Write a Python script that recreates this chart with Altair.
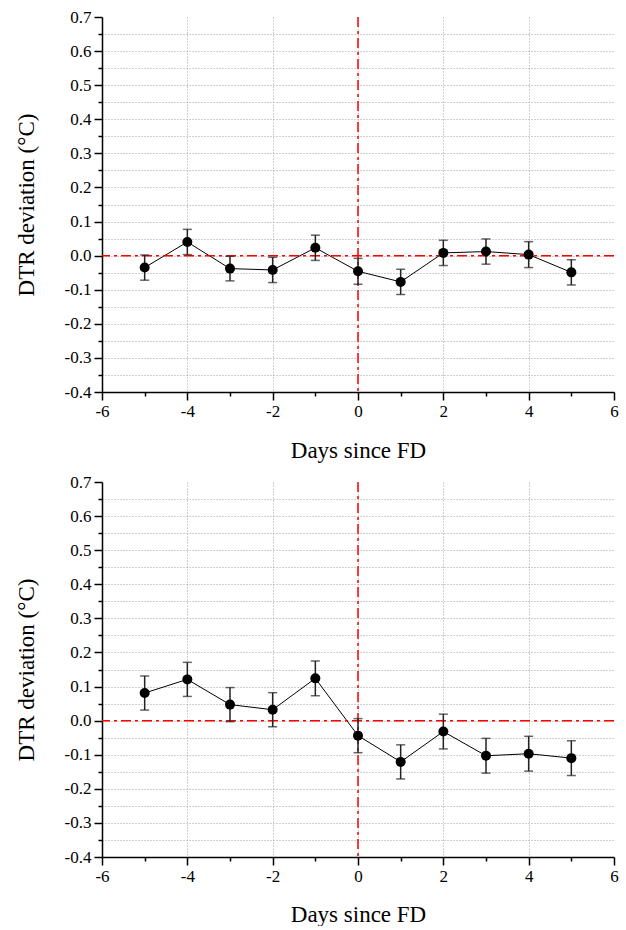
import altair as alt
import pandas as pd

days = [-5, -4, -3, -2, -1, 0, 1, 2, 3, 4, 5]

top_mean = [-0.035, 0.040, -0.038, -0.042, 0.023, -0.046, -0.077, 0.008, 0.012, 0.003, -0.049]
top_err = [0.037, 0.037, 0.036, 0.037, 0.037, 0.038, 0.037, 0.037, 0.037, 0.038, 0.037]

bottom_mean = [0.081, 0.121, 0.047, 0.032, 0.124, -0.044, -0.121, -0.032, -0.103, -0.097, -0.110]
bottom_err = [0.050, 0.050, 0.050, 0.050, 0.051, 0.050, 0.050, 0.051, 0.051, 0.051, 0.051]

x_ticks = [-6, -5, -4, -3, -2, -1, 0, 1, 2, 3, 4, 5, 6]
y_ticks = [-0.4, -0.35, -0.3, -0.25, -0.2, -0.15, -0.1, -0.05, 0.0, 0.05, 0.1, 0.15,
           0.2, 0.25, 0.3, 0.35, 0.4, 0.45, 0.5, 0.55, 0.6, 0.65, 0.7]

FONT = "Liberation Serif"
W, H = 512, 375


def panel(mean, err, xtitle_pad):
    df = pd.DataFrame({
        "day": days,
        "mean": mean,
        "lo": [m - e for m, e in zip(mean, err)],
        "hi": [m + e for m, e in zip(mean, err)],
    })
    xscale = alt.Scale(domain=[-6, 6], nice=False, zero=False)
    yscale = alt.Scale(domain=[-0.4, 0.7], nice=False, zero=False)
    common = dict(
        labelFont=FONT, titleFont=FONT, labelFontSize=17, titleFontSize=23,
        titleFontWeight="normal", labelColor="black", titleColor="black",
        domainColor="black", domainWidth=1.5, tickColor="black", tickWidth=1.5,
        gridColor="#a0a0a0", gridDash=[1, 2], gridWidth=1, labelPadding=3,
        labelFlush=False, labelOverlap=False,
    )
    xaxis = alt.Axis(
        values=x_ticks,
        labelExpr="datum.value % 2 == 0 ? '' + datum.value : ''",
        tickSize={"condition": {"test": "datum.value % 2 == 0", "value": 8}, "value": 4},
        gridOpacity={"condition": {"test": "datum.value % 2 == 0 && abs(datum.value) < 6", "value": 1}, "value": 0},
        title="Days since FD",
        titlePadding=xtitle_pad,
        **common,
    )
    yaxis = alt.Axis(
        values=y_ticks,
        labelExpr="abs(round(datum.value * 100)) % 10 == 0 ? replace(format(datum.value, '.1f'), '−', '-') : ''",
        tickSize={"condition": {"test": "abs(round(datum.value * 100)) % 10 == 0", "value": 8}, "value": 4},
        gridOpacity={"condition": {"test": "datum.value < 0.69 && datum.value > -0.39", "value": 1}, "value": 0},
        title="DTR deviation (°C)",
        titlePadding=26,
        **common,
    )

    def X(f):
        return alt.X(f, type="quantitative", scale=xscale, axis=xaxis)

    def Y(f):
        return alt.Y(f, type="quantitative", scale=yscale, axis=yaxis)

    base = alt.Chart(df)
    line = base.mark_line(color="black", strokeWidth=1).encode(x=X("day"), y=Y("mean"))
    bars = base.mark_rule(color="#222", strokeWidth=1.5).encode(x=X("day"), y=Y("lo"), y2="hi:Q")
    cap_lo = base.mark_tick(color="#222", orient="horizontal", size=9, thickness=1.5).encode(
        x=X("day"), y=Y("lo"))
    cap_hi = base.mark_tick(color="#222", orient="horizontal", size=9, thickness=1.5).encode(
        x=X("day"), y=Y("hi"))
    pts = base.mark_circle(color="black", opacity=1, size=100).encode(x=X("day"), y=Y("mean"))
    ref = pd.DataFrame({"v": [0.0]})
    hline = alt.Chart(ref).mark_rule(
        color="red", strokeWidth=1.5, strokeDash=[10, 4, 3, 4]
    ).encode(y=Y("v"))
    vline = alt.Chart(ref).mark_rule(
        color="red", strokeWidth=1.5, strokeDash=[10, 4, 3, 4]
    ).encode(x=X("v"))
    return alt.layer(line, hline, vline, bars, cap_lo, cap_hi, pts).properties(width=W, height=H)


top = panel(top_mean, top_err, 20)
bottom = panel(bottom_mean, bottom_err, 19)

chart = alt.vconcat(top, bottom, spacing=11).properties(
    padding={"left": 15, "top": 8, "right": 4, "bottom": 0}
).configure(font=FONT).configure_view(stroke=None)

chart.save("out.html", embed_options={"renderer": "svg", "actions": False})
